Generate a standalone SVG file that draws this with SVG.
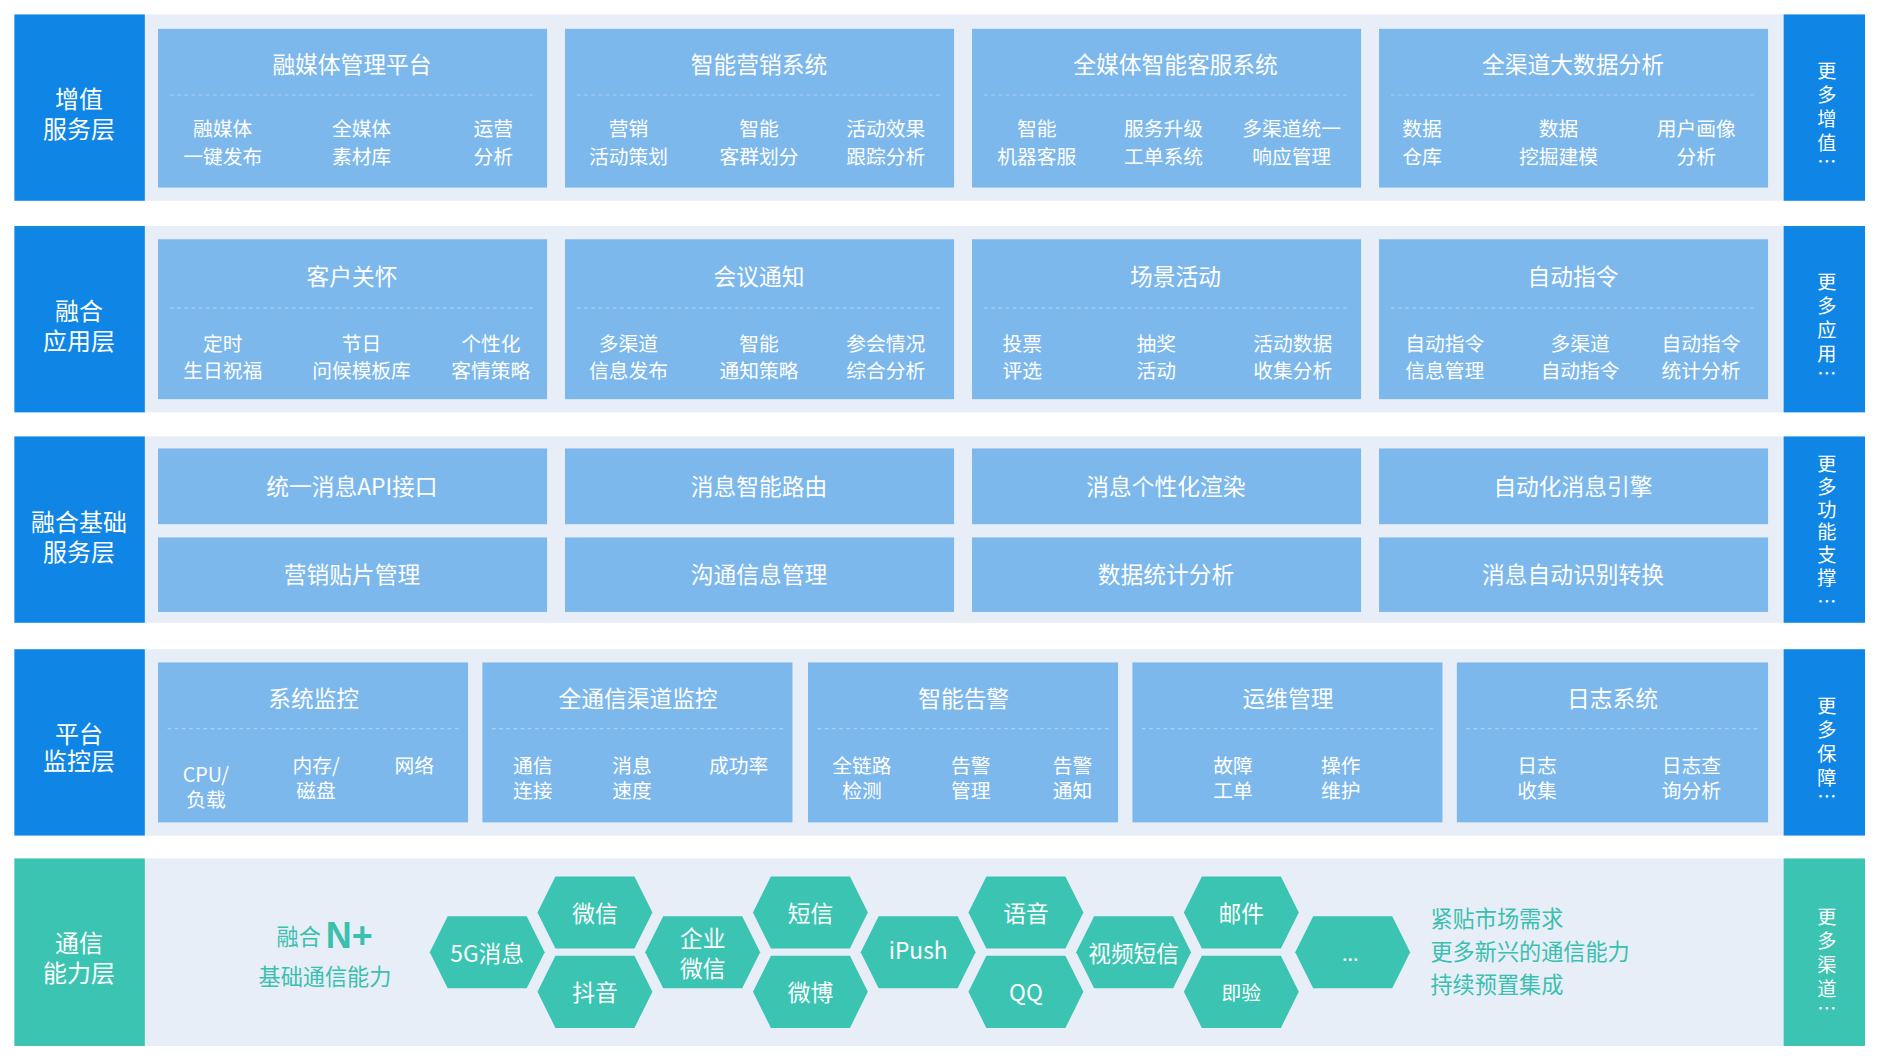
<svg xmlns="http://www.w3.org/2000/svg" width="1877" height="1058" viewBox="0 0 1877 1058">
<style>
text{font-family:"Noto Sans CJK SC","Liberation Sans",sans-serif;fill:#fff;text-anchor:middle;dominant-baseline:central}
.lb{font-size:20px}
.tt{font-size:19px}
.sb{font-size:16.5px}
.vt{font-size:16px}
.card{fill:#7db8ec}
.blue{fill:#0f86e6}
.teal{fill:#3bc4b1}
.panel{fill:#e7eef8}
.dl{stroke:#a9d0f3;stroke-width:1;stroke-dasharray:3 3}
.hex{fill:#3bc4b1}
.ht{font-size:19px}
.gt{fill:#3bbfae;font-size:18.5px;text-anchor:start}
</style>
<defs>
<polygon id="hx" points="-48,0 -33,-30 33,-30 48,0 33,30 -33,30"/>
</defs>
<rect width="1877" height="1058" fill="#fff"/>
<g transform="scale(1.19707,1.20227)">
<!-- panels -->
<g id="panels">
<rect class="panel" x="121" y="12" width="1369" height="155"/>
<rect class="panel" x="121" y="188" width="1369" height="155"/>
<rect class="panel" x="121" y="363" width="1369" height="155"/>
<rect class="panel" x="121" y="540" width="1369" height="155"/>
<rect class="panel" x="121" y="714" width="1369" height="156"/>
</g>
<!-- left labels -->
<g id="layer-labels">
<rect class="blue" x="12" y="12" width="109" height="155"/>
<text class="lb" x="66" y="81">增值</text><text class="lb" x="66" y="106">服务层</text>
<rect class="blue" x="12" y="188" width="109" height="155"/>
<text class="lb" x="66" y="257">融合</text><text class="lb" x="66" y="282">应用层</text>
<rect class="blue" x="12" y="363" width="109" height="155"/>
<text class="lb" x="66" y="433">融合基础</text><text class="lb" x="66" y="458">服务层</text>
<rect class="blue" x="12" y="540" width="109" height="155"/>
<text class="lb" x="66" y="609">平台</text><text class="lb" x="66" y="632">监控层</text>
<rect class="teal" x="12" y="714" width="109" height="156"/>
<text class="lb" x="66" y="783">通信</text><text class="lb" x="66" y="808">能力层</text>
</g>
<!-- right boxes -->
<g id="more">
<rect class="blue" x="1490" y="12" width="68" height="155"/>
<text class="vt" x="1526"><tspan x="1526" y="58">更</tspan><tspan x="1526" y="78">多</tspan><tspan x="1526" y="98">增</tspan><tspan x="1526" y="118">值</tspan><tspan x="1526" y="134">…</tspan></text>
<rect class="blue" x="1490" y="188" width="68" height="155"/>
<text class="vt" x="1526"><tspan x="1526" y="234">更</tspan><tspan x="1526" y="254">多</tspan><tspan x="1526" y="274">应</tspan><tspan x="1526" y="294">用</tspan><tspan x="1526" y="310">…</tspan></text>
<rect class="blue" x="1490" y="363" width="68" height="155"/>
<text class="vt" x="1526"><tspan x="1526" y="385">更</tspan><tspan x="1526" y="404">多</tspan><tspan x="1526" y="423">功</tspan><tspan x="1526" y="442">能</tspan><tspan x="1526" y="461">支</tspan><tspan x="1526" y="480">撑</tspan><tspan x="1526" y="500">…</tspan></text>
<rect class="blue" x="1490" y="540" width="68" height="155"/>
<text class="vt" x="1526"><tspan x="1526" y="586">更</tspan><tspan x="1526" y="606">多</tspan><tspan x="1526" y="626">保</tspan><tspan x="1526" y="646">障</tspan><tspan x="1526" y="662">…</tspan></text>
<rect class="teal" x="1490" y="714" width="68" height="156"/>
<text class="vt" x="1526"><tspan x="1526" y="762">更</tspan><tspan x="1526" y="782">多</tspan><tspan x="1526" y="802">渠</tspan><tspan x="1526" y="822">道</tspan><tspan x="1526" y="838">…</tspan></text>
</g>
<!-- row 1 -->
<g id="row1">
<rect class="card" x="132" y="24" width="325" height="132"/><line class="dl" x1="142" y1="79" x2="447" y2="79"/>
<text class="tt" x="294" y="53">融媒体管理平台</text>
<text class="sb" x="186" y="106">融媒体</text><text class="sb" x="186" y="129">一键发布</text>
<text class="sb" x="302" y="106">全媒体</text><text class="sb" x="302" y="129">素材库</text>
<text class="sb" x="412" y="106">运营</text><text class="sb" x="412" y="129">分析</text>
<rect class="card" x="472" y="24" width="325" height="132"/><line class="dl" x1="482" y1="79" x2="787" y2="79"/>
<text class="tt" x="634" y="53">智能营销系统</text>
<text class="sb" x="525" y="106">营销</text><text class="sb" x="525" y="129">活动策划</text>
<text class="sb" x="634" y="106">智能</text><text class="sb" x="634" y="129">客群划分</text>
<text class="sb" x="740" y="106">活动效果</text><text class="sb" x="740" y="129">跟踪分析</text>
<rect class="card" x="812" y="24" width="325" height="132"/><line class="dl" x1="822" y1="79" x2="1127" y2="79"/>
<text class="tt" x="982" y="53">全媒体智能客服系统</text>
<text class="sb" x="866" y="106">智能</text><text class="sb" x="866" y="129">机器客服</text>
<text class="sb" x="972" y="106">服务升级</text><text class="sb" x="972" y="129">工单系统</text>
<text class="sb" x="1079" y="106">多渠道统一</text><text class="sb" x="1079" y="129">响应管理</text>
<rect class="card" x="1152" y="24" width="325" height="132"/><line class="dl" x1="1162" y1="79" x2="1467" y2="79"/>
<text class="tt" x="1314" y="53">全渠道大数据分析</text>
<text class="sb" x="1188" y="106">数据</text><text class="sb" x="1188" y="129">仓库</text>
<text class="sb" x="1302" y="106">数据</text><text class="sb" x="1302" y="129">挖掘建模</text>
<text class="sb" x="1417" y="106">用户画像</text><text class="sb" x="1417" y="129">分析</text>
</g>
<!-- row 2 -->
<g id="row2">
<rect class="card" x="132" y="199" width="325" height="133"/><line class="dl" x1="142" y1="256" x2="447" y2="256"/>
<text class="tt" x="294" y="229">客户关怀</text>
<text class="sb" x="186" y="285">定时</text><text class="sb" x="186" y="307">生日祝福</text>
<text class="sb" x="302" y="285">节日</text><text class="sb" x="302" y="307">问候模板库</text>
<text class="sb" x="410" y="285">个性化</text><text class="sb" x="410" y="307">客情策略</text>
<rect class="card" x="472" y="199" width="325" height="133"/><line class="dl" x1="482" y1="256" x2="787" y2="256"/>
<text class="tt" x="634" y="229">会议通知</text>
<text class="sb" x="525" y="285">多渠道</text><text class="sb" x="525" y="307">信息发布</text>
<text class="sb" x="634" y="285">智能</text><text class="sb" x="634" y="307">通知策略</text>
<text class="sb" x="740" y="285">参会情况</text><text class="sb" x="740" y="307">综合分析</text>
<rect class="card" x="812" y="199" width="325" height="133"/><line class="dl" x1="822" y1="256" x2="1127" y2="256"/>
<text class="tt" x="982" y="229">场景活动</text>
<text class="sb" x="854" y="285">投票</text><text class="sb" x="854" y="307">评选</text>
<text class="sb" x="966" y="285">抽奖</text><text class="sb" x="966" y="307">活动</text>
<text class="sb" x="1080" y="285">活动数据</text><text class="sb" x="1080" y="307">收集分析</text>
<rect class="card" x="1152" y="199" width="325" height="133"/><line class="dl" x1="1162" y1="256" x2="1467" y2="256"/>
<text class="tt" x="1314" y="229">自动指令</text>
<text class="sb" x="1207" y="285">自动指令</text><text class="sb" x="1207" y="307">信息管理</text>
<text class="sb" x="1320" y="285">多渠道</text><text class="sb" x="1320" y="307">自动指令</text>
<text class="sb" x="1421" y="285">自动指令</text><text class="sb" x="1421" y="307">统计分析</text>
</g>
<!-- row 3 -->
<g id="row3">
<rect class="card" x="132" y="373" width="325" height="63"/><text class="tt" x="294" y="404">统一消息API接口</text>
<rect class="card" x="472" y="373" width="325" height="63"/><text class="tt" x="634" y="404">消息智能路由</text>
<rect class="card" x="812" y="373" width="325" height="63"/><text class="tt" x="974" y="404">消息个性化渲染</text>
<rect class="card" x="1152" y="373" width="325" height="63"/><text class="tt" x="1314" y="404">自动化消息引擎</text>
<rect class="card" x="132" y="447" width="325" height="62"/><text class="tt" x="294" y="477">营销贴片管理</text>
<rect class="card" x="472" y="447" width="325" height="62"/><text class="tt" x="634" y="477">沟通信息管理</text>
<rect class="card" x="812" y="447" width="325" height="62"/><text class="tt" x="974" y="477">数据统计分析</text>
<rect class="card" x="1152" y="447" width="325" height="62"/><text class="tt" x="1314" y="477">消息自动识别转换</text>
</g>
<!-- row 4 -->
<g id="row4">
<rect class="card" x="132" y="551" width="259" height="133"/><line class="dl" x1="140" y1="606" x2="383" y2="606"/>
<text class="tt" x="262" y="580">系统监控</text>
<text class="sb" x="172" y="643">CPU/</text><text class="sb" x="172" y="664">负载</text>
<text class="sb" x="264" y="636">内存/</text><text class="sb" x="264" y="657">磁盘</text>
<text class="sb" x="346" y="636">网络</text>
<rect class="card" x="403" y="551" width="259" height="133"/><line class="dl" x1="411" y1="606" x2="654" y2="606"/>
<text class="tt" x="533" y="580">全通信渠道监控</text>
<text class="sb" x="445" y="636">通信</text><text class="sb" x="445" y="657">连接</text>
<text class="sb" x="528" y="636">消息</text><text class="sb" x="528" y="657">速度</text>
<text class="sb" x="617" y="636">成功率</text>
<rect class="card" x="675" y="551" width="259" height="133"/><line class="dl" x1="683" y1="606" x2="926" y2="606"/>
<text class="tt" x="805" y="580">智能告警</text>
<text class="sb" x="720" y="636">全链路</text><text class="sb" x="720" y="657">检测</text>
<text class="sb" x="811" y="636">告警</text><text class="sb" x="811" y="657">管理</text>
<text class="sb" x="896" y="636">告警</text><text class="sb" x="896" y="657">通知</text>
<rect class="card" x="946" y="551" width="259" height="133"/><line class="dl" x1="954" y1="606" x2="1197" y2="606"/>
<text class="tt" x="1076" y="580">运维管理</text>
<text class="sb" x="1030" y="636">故障</text><text class="sb" x="1030" y="657">工单</text>
<text class="sb" x="1120" y="636">操作</text><text class="sb" x="1120" y="657">维护</text>
<rect class="card" x="1217" y="551" width="260" height="133"/><line class="dl" x1="1225" y1="606" x2="1469" y2="606"/>
<text class="tt" x="1347" y="580">日志系统</text>
<text class="sb" x="1284" y="636">日志</text><text class="sb" x="1284" y="657">收集</text>
<text class="sb" x="1413" y="636">日志查</text><text class="sb" x="1413" y="657">询分析</text>
</g>
<!-- row 5 -->
<g id="row5">
<text class="gt" x="231" y="778">融合 <tspan font-size="30" font-weight="bold" font-family="Liberation Sans,sans-serif">N+</tspan></text>
<text class="gt" x="216" y="811">基础通信能力</text>
<use href="#hx" class="hex" x="407" y="792"/><text class="ht" x="407" y="792">5G消息</text>
<use href="#hx" class="hex" x="497" y="759"/><text class="ht" x="497" y="759">微信</text>
<use href="#hx" class="hex" x="497" y="825"/><text class="ht" x="497" y="825">抖音</text>
<use href="#hx" class="hex" x="587" y="792"/><text class="ht" x="587" y="780">企业</text><text class="ht" x="587" y="805">微信</text>
<use href="#hx" class="hex" x="677" y="759"/><text class="ht" x="677" y="759">短信</text>
<use href="#hx" class="hex" x="677" y="825"/><text class="ht" x="677" y="825">微博</text>
<use href="#hx" class="hex" x="767" y="792"/><text class="ht" x="767" y="790">iPush</text>
<use href="#hx" class="hex" x="857" y="759"/><text class="ht" x="857" y="759">语音</text>
<use href="#hx" class="hex" x="857" y="825"/><text class="ht" x="857" y="825">QQ</text>
<use href="#hx" class="hex" x="947" y="792"/><text class="ht" x="947" y="792">视频短信</text>
<use href="#hx" class="hex" x="1037" y="759"/><text class="ht" x="1037" y="759">邮件</text>
<use href="#hx" class="hex" x="1037" y="825"/><text class="sb" x="1037" y="825">即验</text>
<use href="#hx" class="hex" x="1130" y="792"/><text class="sb" x="1128" y="792">...</text>
<text class="gt" x="1195" y="763">紧贴市场需求</text>
<text class="gt" x="1195" y="790">更多新兴的通信能力</text>
<text class="gt" x="1195" y="818">持续预置集成</text>
</g>
</g>
</svg>
